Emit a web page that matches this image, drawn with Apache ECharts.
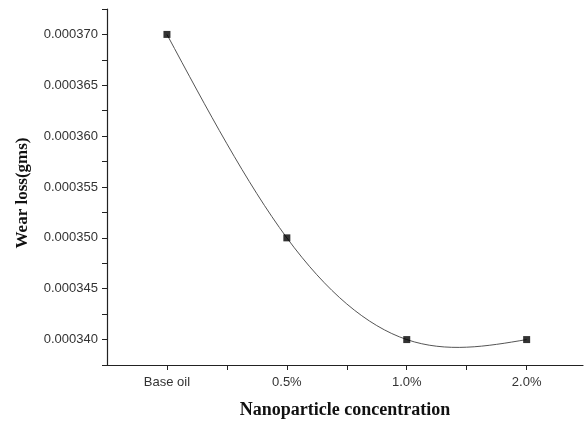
<!DOCTYPE html>
<html>
<head>
<meta charset="utf-8">
<script src="https://cdn.jsdelivr.net/npm/echarts@6/dist/echarts.min.js"></script>
<style>html,body{margin:0;padding:0;background:#fff;overflow:hidden}#c{width:584px;height:421px}</style>
</head>
<body>
<div id="c"></div>
<script>
var categories = ['Base oil', '0.5%', '1.0%', '2.0%'];
var wearLoss = [0.000370, 0.000350, 0.000340, 0.000340];
var yTicks = [0.000340, 0.000345, 0.000350, 0.000355, 0.000360, 0.000365, 0.000370];

var pts = wearLoss.map(function (v, i) { return [i, v]; });

// Natural cubic spline second derivatives (uniform spacing h = 1), used only to
// derive Bezier control points so the curve is drawn through the data by the library.
function naturalSplineM(y) {
  var n = y.length, M = new Array(n).fill(0);
  if (n < 3) return M;
  var m = n - 2, a = [], b = [], c = [], d = [];
  for (var i = 1; i <= m; i++) {
    a.push(1); b.push(4); c.push(1);
    d.push(6 * (y[i - 1] - 2 * y[i] + y[i + 1]));
  }
  for (var k = 1; k < m; k++) {
    var w = a[k] / b[k - 1];
    b[k] -= w * c[k - 1];
    d[k] -= w * d[k - 1];
  }
  var x = new Array(m);
  x[m - 1] = d[m - 1] / b[m - 1];
  for (var j = m - 2; j >= 0; j--) x[j] = (d[j] - c[j] * x[j + 1]) / b[j];
  for (var t = 0; t < m; t++) M[t + 1] = x[t];
  return M;
}
var M2 = naturalSplineM(wearLoss);

var chart = echarts.init(document.getElementById('c'), null, { renderer: 'canvas' });
chart.setOption({
  animation: false,
  backgroundColor: '#fff',
  grid: { left: 107, right: 1, top: 9, bottom: 56, containLabel: false, outerBoundsMode: 'none' },
  xAxis: {
    type: 'value', min: -0.5, max: 3.47, interval: 0.5,
    name: 'Nanoparticle concentration', nameLocation: 'middle', nameGap: 36,
    nameTextStyle: { fontFamily: 'Liberation Serif', fontWeight: 'bold', fontSize: 18, color: '#111' },
    axisLine: { onZero: false, lineStyle: { color: '#222', width: 1.2 } },
    axisTick: { show: true, length: 5, lineStyle: { color: '#222' } },
    axisLabel: {
      fontFamily: 'Liberation Sans', fontSize: 13, color: '#333', margin: 11,
      showMinLabel: false, showMaxLabel: false,
      formatter: function (v) {
        var r = Math.round(v);
        return (Math.abs(v - r) < 1e-6 && r >= 0 && r < categories.length) ? categories[r] : '';
      }
    },
    splitLine: { show: false }
  },
  yAxis: {
    type: 'value', min: 0.0003375, max: 0.0003725, interval: 0.0000025,
    name: 'Wear loss(gms)', nameLocation: 'middle', nameGap: 76,
    nameTextStyle: { fontFamily: 'Liberation Serif', fontWeight: 'bold', fontSize: 17, color: '#111', padding: [0, 12, 0, 0] },
    axisLine: { onZero: false, lineStyle: { color: '#222', width: 1.2 } },
    axisTick: { show: true, length: 5, lineStyle: { color: '#222' } },
    axisLabel: {
      fontFamily: 'Liberation Sans', fontSize: 13, color: '#333', margin: 9,
      formatter: function (v) {
        for (var i = 0; i < yTicks.length; i++) {
          if (Math.abs(v - yTicks[i]) < 1e-10) return yTicks[i].toFixed(6);
        }
        return '';
      }
    },
    splitLine: { show: false }
  },
  series: [
    {
      type: 'custom', data: pts, clip: false, z: 1, silent: true,
      renderItem: function (params, api) {
        var i = params.dataIndex;
        if (i >= pts.length - 1) return null;
        var x0 = pts[i][0], x1 = pts[i + 1][0], y0 = pts[i][1], y1 = pts[i + 1][1];
        var h = x1 - x0;
        var s0 = (y1 - y0) / h - h * (2 * M2[i] + M2[i + 1]) / 6;
        var s1 = (y1 - y0) / h + h * (M2[i] + 2 * M2[i + 1]) / 6;
        var p0 = api.coord([x0, y0]);
        var p1 = api.coord([x1, y1]);
        var c0 = api.coord([x0 + h / 3, y0 + s0 * h / 3]);
        var c1 = api.coord([x1 - h / 3, y1 - s1 * h / 3]);
        return {
          type: 'bezierCurve',
          shape: { x1: p0[0], y1: p0[1], x2: p1[0], y2: p1[1], cpx1: c0[0], cpy1: c0[1], cpx2: c1[0], cpy2: c1[1] },
          style: { stroke: '#555', lineWidth: 1, fill: null }
        };
      }
    },
    {
      type: 'scatter', data: pts, symbol: 'rect', symbolSize: 7,
      itemStyle: { color: '#000' }, z: 2
    }
  ]
});
</script>
</body>
</html>
